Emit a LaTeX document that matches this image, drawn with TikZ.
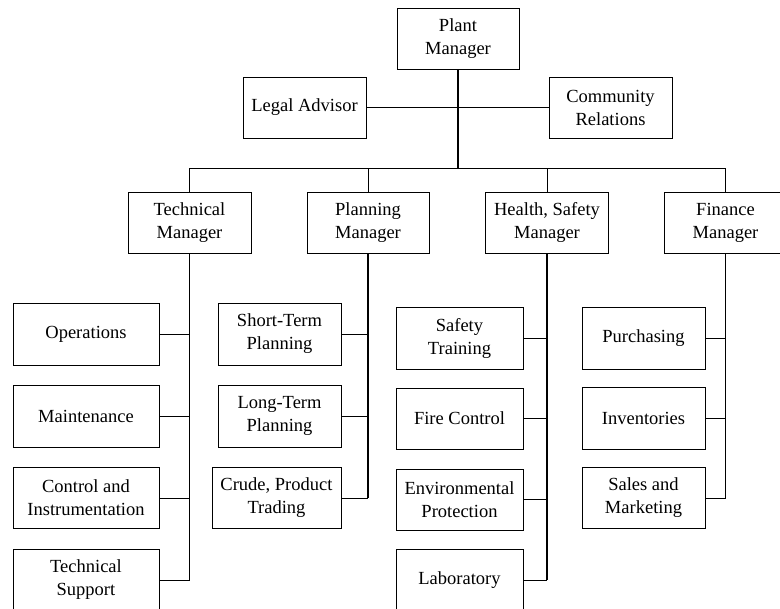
\documentclass[tikz,border=0pt]{standalone}
\usepackage{fontspec}
\setmainfont{Liberation Serif}
\begin{document}
\begin{tikzpicture}[x=1pt,y=-1pt,
  orgbox/.style={draw=black, line width=0.9pt, fill=white, inner sep=0pt,
    minimum height=61pt, align=center,
    font=\fontsize{18.5}{23}\selectfont},
  link/.style={draw=black, line width=0.9pt},
  trunk/.style={draw=black, line width=1.2pt}]
\useasboundingbox (0,0) rectangle (780,609);
\clip (0,0) rectangle (780,609);
% top level
\node[orgbox, minimum width=122pt] (plant) at (458,38.5) {Plant\\Manager};
\node[orgbox, minimum width=123pt] (legal) at (304.5,107.5) {Legal Advisor};
\node[orgbox, minimum width=123pt] (comm) at (610.5,107.5) {Community\\Relations};
\coordinate (bus) at (458,168.3);
% managers
\node[orgbox, minimum width=123pt] (tm) at (189.5,222.5) {Technical\\Manager};
\node[orgbox, minimum width=122pt] (pm) at (368,222.5) {Planning\\Manager};
\node[orgbox, minimum width=123pt] (hm) at (547,222.5) {Health, Safety\\Manager};
\node[orgbox, minimum width=123pt] (fm) at (725.5,222.5) {Finance\\Manager};
% technical
\node[orgbox, minimum width=146pt, minimum height=62pt] (ops) at (86,334) {Operations};
\node[orgbox, minimum width=146pt, minimum height=62pt] (mnt) at (86,416) {Maintenance};
\node[orgbox, minimum width=146pt] (ctl) at (86,498) {Control and\\Instrumentation};
\node[orgbox, minimum width=146pt, minimum height=62pt] (tsp) at (86,580) {Technical\\Support};
% planning
\node[orgbox, minimum width=123pt, minimum height=62pt] (stp) at (279.5,334) {Short-Term\\Planning};
\node[orgbox, minimum width=123pt, minimum height=62pt] (ltp) at (279.5,416) {Long-Term\\Planning};
\node[orgbox, minimum width=129pt] (cpt) at (276.5,498) {Crude, Product\\Trading};
% health safety
\node[orgbox, minimum width=127pt, minimum height=62pt] (str) at (459.5,338) {Safety\\Training};
\node[orgbox, minimum width=127pt] (fir) at (459.5,418.5) {Fire Control};
\node[orgbox, minimum width=127pt] (env) at (459.5,499.5) {Environmental\\Protection};
\node[orgbox, minimum width=127pt, minimum height=62pt] (lab) at (459.5,580) {Laboratory};
% finance
\node[orgbox, minimum width=123pt, minimum height=62pt] (pur) at (643.5,338) {Purchasing};
\node[orgbox, minimum width=123pt, minimum height=62pt] (inv) at (643.5,418) {Inventories};
\node[orgbox, minimum width=123pt] (sal) at (643.5,498) {Sales and\\Marketing};
% connectors top
\draw[trunk] (plant.south) -- (bus);
\draw[link] (legal.east) -- (comm.west);
\draw[link] (tm.north) |- (bus) -| (fm.north);
\draw[link] (pm.north) -- (pm.north |- bus);
\draw[link] (hm.north) -- (hm.north |- bus);
% technical branch
\draw[trunk] (tm.south) -- (tm.south |- tsp.east);
\draw[link] (ops.east) -- (ops.east -| tm.south);
\draw[link] (mnt.east) -- (mnt.east -| tm.south);
\draw[link] (ctl.east) -- (ctl.east -| tm.south);
\draw[link] (tsp.east) -- (tsp.east -| tm.south);
% planning branch
\draw[trunk] (pm.south) -- (pm.south |- cpt.east);
\draw[link] (stp.east) -- (stp.east -| pm.south);
\draw[link] (ltp.east) -- (ltp.east -| pm.south);
\draw[link] (cpt.east) -- (cpt.east -| pm.south);
% health branch
\draw[trunk] (hm.south) -- (hm.south |- lab.east);
\draw[link] (str.east) -- (str.east -| hm.south);
\draw[link] (fir.east) -- (fir.east -| hm.south);
\draw[link] (env.east) -- (env.east -| hm.south);
\draw[link] (lab.east) -- (lab.east -| hm.south);
% finance branch
\draw[trunk] (fm.south) -- (fm.south |- sal.east);
\draw[link] (pur.east) -- (pur.east -| fm.south);
\draw[link] (inv.east) -- (inv.east -| fm.south);
\draw[link] (sal.east) -- (sal.east -| fm.south);
\end{tikzpicture}
\end{document}
